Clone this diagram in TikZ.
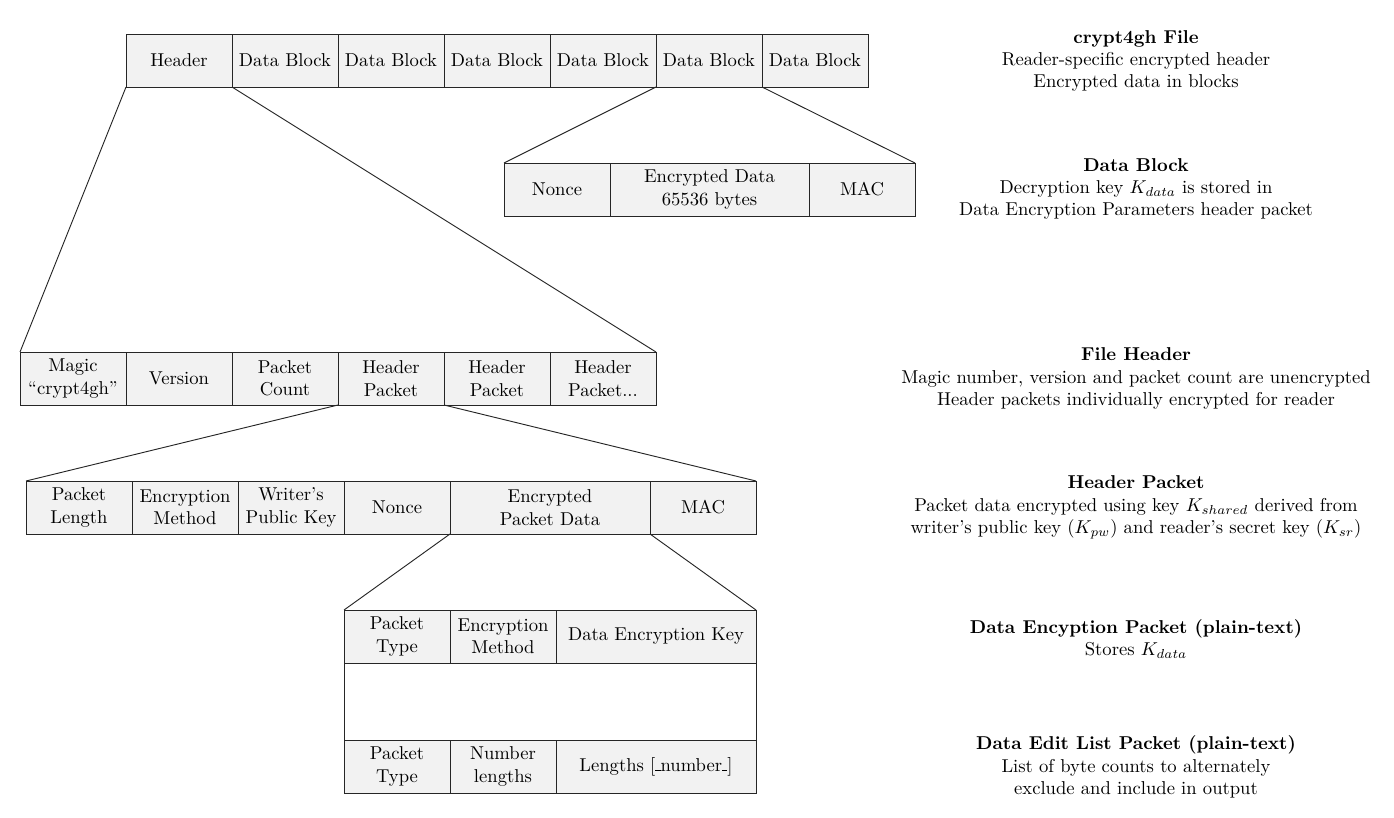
\documentclass[tikz,border=0pt]{standalone}
\usetikzlibrary{positioning}
\newcommand{\shortus}{\rule{0.28em}{0.4pt}}
\begin{document}
\begin{tikzpicture}[x=0.018868cm, y=-0.018868cm,
  cell/.style={draw=black!85, line width=0.5pt, fill=black!5, minimum height=1cm, minimum width=2cm, align=center, inner sep=1pt, outer sep=0pt},
  wcell/.style={cell, minimum width=200*0.018868cm},
  conn/.style={draw=black!85, line width=0.5pt},
  desc/.style={align=center, inner sep=0pt}]
\useasboundingbox (0,0) rectangle (1394,818);
% top row: crypt4gh file
\node[cell] (t0) at (179,60.5) {Header};
\node[cell] (t1) at (285,60.5) {Data Block};
\node[cell] (t2) at (391,60.5) {Data Block};
\node[cell] (t3) at (497,60.5) {Data Block};
\node[cell] (t4) at (603,60.5) {Data Block};
\node[cell] (t5) at (709,60.5) {Data Block};
\node[cell] (t6) at (815,60.5) {Data Block};
% data block
\node[cell] (d1) at (557,189.5) {Nonce};
\node[cell, minimum width=199*0.018868cm] (d2) at (709.5,189.5) {Encrypted Data\\65536 bytes};
\node[cell] (d3) at (862,189.5) {MAC};
% file header
\node[cell] (h1) at (73,378.5) {Magic\\``crypt4gh''};
\node[cell] (h2) at (179,378.5) {Version};
\node[cell] (h3) at (285,378.5) {Packet\\Count};
\node[cell] (h4) at (391,378.5) {Header\\Packet};
\node[cell] (h5) at (497,378.5) {Header\\Packet};
\node[cell] (h6) at (603,378.5) {Header\\Packet...};
% header packet
\node[cell] (p1) at (79,507.5) {Packet\\Length};
\node[cell] (p2) at (185,507.5) {Encryption\\Method};
\node[cell] (p3) at (291,507.5) {Writer's\\Public Key};
\node[cell] (p4) at (397,507.5) {Nonce};
\node[wcell] (p5) at (550,507.5) {Encrypted\\Packet Data};
\node[cell] (p6) at (703,507.5) {MAC};
% data encryption packet
\node[cell] (e1) at (397,636.5) {Packet\\Type};
\node[cell] (e2) at (503,636.5) {Encryption\\Method};
\node[wcell] (e3) at (656,636.5) {Data Encryption Key};
% blank
\node[draw=black!85, line width=0.5pt, fill=white, minimum width=412*0.018868cm, minimum height=77*0.018868cm, inner sep=0pt, outer sep=0pt] (w) at (550,701.5) {};
% data edit list packet
\node[cell] (l1) at (397,766.5) {Packet\\Type};
\node[cell] (l2) at (503,766.5) {Number\\lengths};
\node[wcell] (l3) at (656,766.5) {Lengths [\shortus number\shortus]};
% connectors
\draw[conn] (t0.south west) -- (h1.north west);
\draw[conn] (t0.south east) -- (h6.north east);
\draw[conn] (t5.south west) -- (d1.north west);
\draw[conn] (t5.south east) -- (d3.north east);
\draw[conn] (h4.south west) -- (p1.north west);
\draw[conn] (h4.south east) -- (p6.north east);
\draw[conn] (p5.south west) -- (e1.north west);
\draw[conn] (p5.south east) -- (e3.north east);
% descriptions
\node[desc] (n1) at (1136,61) {\textbf{crypt4gh File}\\Reader-specific encrypted header\\Encrypted data in blocks};
\node[desc] (n2) at (1136,189) {\textbf{Data Block}\\Decryption key $K_{data}$ is stored in\\Data Encryption Parameters header packet};
\node[desc] (n3) at (1136,378.5) {\textbf{File Header}\\Magic number, version and packet count are unencrypted\\Header packets individually encrypted for reader};
\node[desc] (n4) at (1136,507.5) {\textbf{Header Packet}\\Packet data encrypted using key $K_{shared}$ derived from\\writer's public key ($K_{pw}$) and reader's secret key ($K_{sr}$)};
\node[desc] (n5) at (1136,639) {\textbf{Data Encyption Packet (plain-text)}\\Stores $K_{data}$};
\node[desc] (n6) at (1136,767) {\textbf{Data Edit List Packet (plain-text)}\\List of byte counts to alternately\\exclude and include in output};
\end{tikzpicture}
\end{document}
